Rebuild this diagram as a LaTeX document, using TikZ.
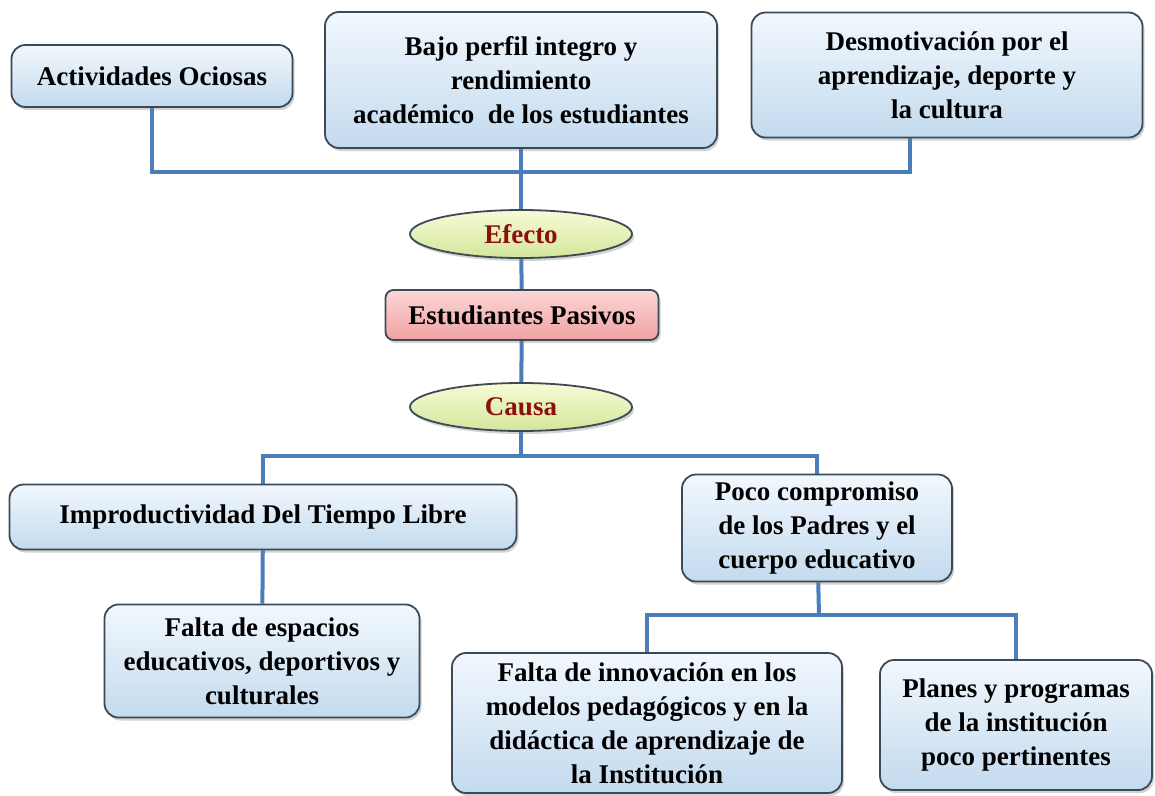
\documentclass[tikz,border=0pt]{standalone}
\usepackage{fontspec}
\setmainfont{Liberation Serif}
\usetikzlibrary{shapes.geometric,shadows,backgrounds}

\definecolor{boxline}{HTML}{3C4A58}
\definecolor{boxtop}{HTML}{F2F8FD}
\definecolor{boxbot}{HTML}{C3DAEE}
\definecolor{ovaltop}{HTML}{F7FBD6}
\definecolor{ovalbot}{HTML}{D3E69A}
\definecolor{pinktop}{HTML}{FCD6D6}
\definecolor{pinkbot}{HTML}{EFA3A3}
\definecolor{linkblue}{HTML}{4A7EBB}
\definecolor{darkred}{HTML}{8E0F0F}

\begin{document}
\begin{tikzpicture}[x=1pt,y=-1pt]
  \useasboundingbox (0,0) rectangle (1155,795);
  \tikzstyle{bnode} = [draw=boxline, line width=1.8pt, rounded corners=14pt, top color=boxtop, bottom color=boxbot,
    drop shadow={opacity=0.35, shadow xshift=2pt, shadow yshift=-3pt},
    font=\fontsize{27}{34}\selectfont\bfseries, align=center, inner sep=0pt]
  \tikzstyle{pnode} = [bnode, rounded corners=8pt, top color=pinktop, bottom color=pinkbot]
  \tikzstyle{enode} = [ellipse, draw=boxline, line width=1.8pt, top color=ovaltop, bottom color=ovalbot,
    drop shadow={opacity=0.35, shadow xshift=2pt, shadow yshift=-3pt},
    font=\fontsize{27}{34}\selectfont\bfseries, text=darkred, inner sep=0pt]
  \tikzstyle{link} = [draw=linkblue, line width=4pt]

  % efectos
  \node[bnode, minimum width=281pt, minimum height=62pt] (act) at (152,76) {Actividades Ociosas};
  \node[bnode, minimum width=392pt, minimum height=136pt] (bajo) at (521,80)
    {Bajo perfil integro y\\ rendimiento\\ académico\ \ de los estudiantes};
  \node[bnode, minimum width=391pt, minimum height=125pt] (des) at (947,75)
    {Desmotivación por el\\ aprendizaje, deporte y\\ la cultura};

  % centro
  \node[enode, minimum width=222pt, minimum height=48pt] (efecto) at (521,234) {Efecto};
  \node[pnode, minimum width=273pt, minimum height=50pt] (pasivos) at (522,315) {Estudiantes Pasivos};
  \node[enode, minimum width=222pt, minimum height=48pt] (causa) at (521,407) {Causa};

  % causas
  \node[bnode, minimum width=507pt, minimum height=65pt] (impro) at (263,517) {Improductividad Del Tiempo Libre};
  \node[bnode, minimum width=270pt, minimum height=107pt] (poco) at (817,528)
    {Poco compromiso\\ de los Padres y el\\ cuerpo educativo};
  \node[bnode, minimum width=315pt, minimum height=113pt] (espacios) at (262,661)
    {Falta de espacios\\ educativos, deportivos y\\ culturales};
  \node[bnode, minimum width=390pt, minimum height=140pt] (innov) at (647,723)
    {Falta de innovación en los\\ modelos pedagógicos y en la\\ didáctica de aprendizaje de\\ la Institución};
  \node[bnode, minimum width=272pt, minimum height=130pt] (planes) at (1016,725)
    {Planes y programas\\ de la institución\\ poco pertinentes};

  \coordinate (efbar) at (521,172);
  \coordinate (desx) at (910,0);
  \coordinate (cabar) at (521,456);
  \coordinate (pobar) at (819,615);

  \begin{scope}[on background layer]
    \draw[link] (act.south) |- (efbar) -| (des.south -| desx);
    \draw[link] (bajo) -- (efecto);
    \draw[link] (efecto) -- (pasivos);
    \draw[link] (pasivos) -- (causa);
    \draw[link] (causa) -- (cabar);
    \draw[link] (impro.north) |- (cabar) -| (poco.north);
    \draw[link] (impro) -- (espacios);
    \draw[link] (poco) -- (pobar);
    \draw[link] (innov.north) |- (pobar) -| (planes.north);
  \end{scope}
\end{tikzpicture}
\end{document}
